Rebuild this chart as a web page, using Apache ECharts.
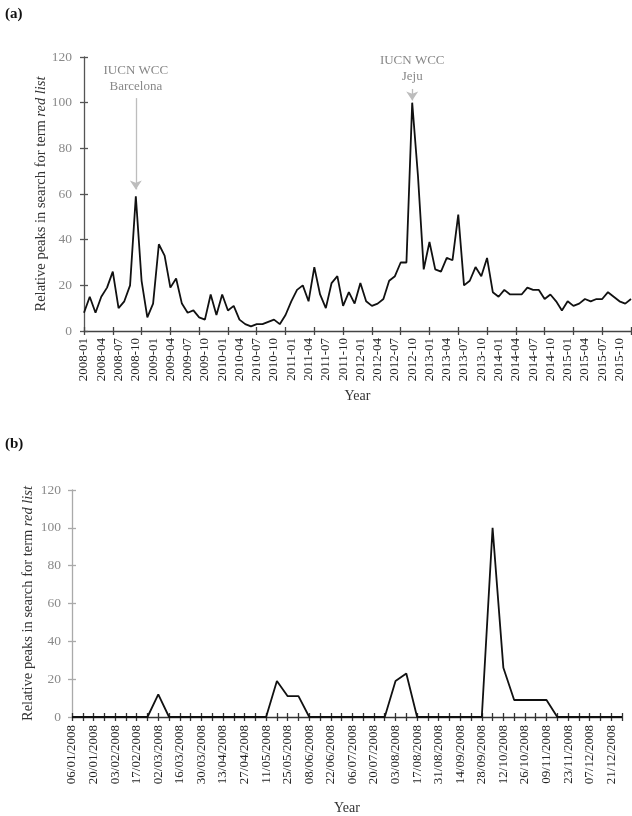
<!DOCTYPE html>
<html>
<head>
<meta charset="utf-8">
<script src="https://cdn.jsdelivr.net/npm/echarts@6/dist/echarts.min.js"></script>
<style>html,body{margin:0;padding:0;background:#fff}#c{width:632px;height:816px}</style>
</head>
<body>
<div id="c"></div>
<script>
// ---- Data ----
// (a) monthly categories 2008-01 .. 2015-12
const monthsA = [];
for (let y = 2008; y <= 2015; y++) {
  for (let m = 1; m <= 12; m++) monthsA.push(y + '-' + (m < 10 ? '0' + m : m));
}
const valuesA = [
  8,15,8,15,19,26,10,13,20,59,22,6,
  12,38,33,19,23,12,8,9,6,5,16,7,
  16,9,11,5,3,2,3,3,4,5,3,7,
  13,18,20,13,28,16,10,21,24,11,17,12,
  21,13,11,12,14,22,24,30,30,100,68,27,
  39,27,26,32,31,51,20,22,28,24,32,17,
  15,18,16,16,16,19,18,18,14,16,13,9,
  13,11,12,14,13,14,14,17,15,13,12,14
];
// (b) weekly categories 06/01/2008 .. 28/12/2008
const weeksB = [];
for (let i = 0; i < 52; i++) {
  const d = new Date(Date.UTC(2008, 0, 6 + 7 * i));
  const dd = String(d.getUTCDate()).padStart(2, '0');
  const mm = String(d.getUTCMonth() + 1).padStart(2, '0');
  weeksB.push(dd + '/' + mm + '/' + d.getUTCFullYear());
}
const valuesB = [
  0,0,0,0,0,0,0,0,12,0,0,0,0,
  0,0,0,0,0,0,19,11,11,0,0,0,0,
  0,0,0,0,19,23,0,0,0,0,0,0,0,
  100,26,9,9,9,9,0,0,0,0,0,0,0
];
const yTicks = {min: 0, max: 120, interval: 20};
const annotations = [
  {cat: monthsA[9], from: 102, to: 62, text: 'IUCN WCC\nBarcelona'},
  {cat: monthsA[57], from: 106, to: 101, text: 'IUCN WCC\nJeju'}
];
const yTitle = 'Relative peaks in search for term {i|red list}';

// ---- Styles ----
const FONT = 'Liberation Serif';
const nameStyle = {
  fontFamily: FONT, fontSize: 14.5, color: '#333',
  rich: {i: {fontFamily: FONT, fontSize: 14.5, color: '#333', fontStyle: 'italic'}}
};

function mainX(grid, data, tickInt, labInt, lineColor, margin, gap) {
  return {
    type: 'category', gridIndex: grid, data: data, boundaryGap: false, position: 'bottom',
    axisLine: {lineStyle: {color: lineColor, width: 1.3}},
    axisTick: {show: true, interval: tickInt, length: 4, lineStyle: {color: lineColor, width: 1.3}},
    axisLabel: {interval: labInt, rotate: 90, margin: margin, fontFamily: FONT, fontSize: 13, color: '#222'},
    splitLine: {show: false},
    name: 'Year', nameLocation: 'middle', nameGap: gap, nameMoveOverlap: false,
    nameTextStyle: {fontFamily: FONT, fontSize: 14, color: '#333'}
  };
}
function dupX(grid, data, tickInt, lineColor) {
  return {
    type: 'category', gridIndex: grid, data: data, boundaryGap: false, position: 'bottom',
    axisLine: {show: false},
    axisTick: {show: true, inside: true, interval: tickInt, length: 4, lineStyle: {color: lineColor, width: 1.3}},
    axisLabel: {show: false}, splitLine: {show: false}
  };
}
function mainY(grid, lineColor, margin, gap) {
  return Object.assign({
    type: 'value', gridIndex: grid, position: 'left',
    axisLine: {show: true, lineStyle: {color: lineColor, width: 1.3}},
    axisTick: {show: true, length: 4, lineStyle: {color: lineColor, width: 1.3}},
    axisLabel: {margin: margin, fontFamily: FONT, fontSize: 13.5, color: '#8a8a8a'},
    splitLine: {show: false},
    name: yTitle, nameLocation: 'middle', nameGap: gap, nameRotate: 90, nameMoveOverlap: false,
    nameTextStyle: nameStyle
  }, yTicks);
}
function dupY(grid, lineColor) {
  return Object.assign({
    type: 'value', gridIndex: grid, position: 'left',
    axisLine: {show: false},
    axisTick: {show: true, inside: true, length: 4, lineStyle: {color: lineColor, width: 1.3}},
    axisLabel: {show: false}, splitLine: {show: false}
  }, yTicks);
}

const chart = echarts.init(document.getElementById('c'), null, {renderer: 'canvas'});
chart.setOption({
  backgroundColor: '#fff',
  animation: false,
  title: [
    {text: '(a)', left: 0, top: 2, textStyle: {fontFamily: FONT, fontSize: 15, fontWeight: 'bold', color: '#111'}},
    {text: '(b)', left: 0, top: 432, textStyle: {fontFamily: FONT, fontSize: 15, fontWeight: 'bold', color: '#111'}}
  ],
  grid: [
    {left: 84, top: 57, width: 547, height: 274, containLabel: false, outerBoundsMode: 'none'},
    {left: 72, top: 490, width: 550, height: 227, containLabel: false, outerBoundsMode: 'none'}
  ],
  xAxis: [
    mainX(0, monthsA, 4, 2, '#444', 7, 58),
    dupX(0, monthsA, 4, '#444'),
    mainX(1, weeksB, 0, 1, '#333', 8, 84),
    dupX(1, weeksB, 0, '#333')
  ],
  yAxis: [
    mainY(0, '#555', 12, 35),
    dupY(0, '#555'),
    mainY(1, '#aaa', 11, 36),
    dupY(1, '#aaa')
  ],
  series: [
    {
      type: 'line', xAxisIndex: 0, yAxisIndex: 0, data: valuesA,
      symbol: 'none', lineStyle: {color: '#111', width: 1.8}, z: 5,
      markLine: {
        silent: true, symbol: ['none', 'arrow'], symbolSize: 9,
        lineStyle: {color: '#bdbdbd', width: 1.3, type: 'solid'},
        label: {show: true, position: 'start', distance: 4, fontFamily: FONT, fontSize: 13, color: '#888', lineHeight: 16, align: 'center'},
        data: annotations.map(a => [
          {coord: [a.cat, a.from], label: {formatter: a.text}},
          {coord: [a.cat, a.to]}
        ])
      }
    },
    {
      type: 'line', xAxisIndex: 2, yAxisIndex: 2, data: valuesB,
      symbol: 'none', lineStyle: {color: '#111', width: 1.8}, z: 5
    }
  ]
});
</script>
</body>
</html>
